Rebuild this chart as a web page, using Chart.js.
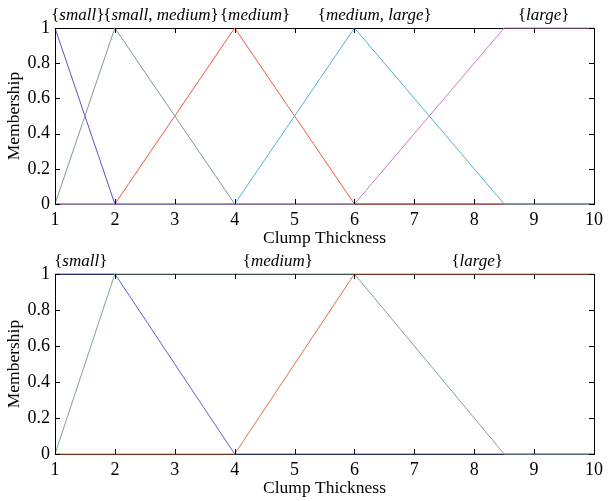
<!DOCTYPE html>
<html>
<head>
<meta charset="utf-8">
<script src="https://cdn.jsdelivr.net/npm/chart.js@4.4.1/dist/chart.umd.min.js"></script>
<style>
  html, body { margin: 0; padding: 0; background: #fff; }
  #wrap { position: relative; width: 608px; height: 501px; }
  canvas { position: absolute; left: 0; }
  #top-chart { top: 0; }
  #bottom-chart { top: 250px; }
</style>
</head>
<body>
<div id="wrap">
  <canvas id="top-chart" width="608" height="250"></canvas>
  <canvas id="bottom-chart" width="608" height="251"></canvas>
</div>
<script>
// ---- data ----
const breakX = [1, 2, 4, 6, 8.5, 10];

// top panel: five fuzzy sets
const topSmall       = [1, 0, 0, 0, 0, 0];
const topSmallMedium = [0, 1, 0, 0, 0, 0];
const topMedium      = [0, 0, 1, 0, 0, 0];
const topMediumLarge = [0, 0, 0, 1, 0, 0];
const topLarge       = [0, 0, 0, 0, 1, 1];
const topNames = ['small', 'small, medium', 'medium', 'medium, large', 'large'];
const topNameAt = [1.38, 2.77, 4.34, 6.34, 9.16];

// bottom panel: three fuzzy sets
const botSmall  = [1, 1, 0, 0, 0, 0];
const botMedium = [0, 1, 1, 1, 0, 0];
const botLarge  = [0, 0, 0, 1, 1, 1];
const botNames = ['small', 'medium', 'large'];
const botNameAt = [1.43, 4.72, 8.05];

const xTickValues = [1, 2, 3, 4, 5, 6, 7, 8, 9, 10];
const xTickLabels = ['1', '2', '3', '4', '5', '6', '7', '8', '9', '10'];
const yTickValues = [0, 0.2, 0.4, 0.6, 0.8, 1];
const yTickLabels = ['0', '0.2', '0.4', '0.6', '0.8', '1'];

const FONT = '"Liberation Serif", "Times New Roman", serif';

function toPoints(ys) {
  return ys.map((y, i) => ({ x: breakX[i], y }));
}

/* draws the axes box and inward tick marks (MATLAB style) */
const boxAndTicks = {
  id: 'boxAndTicks',
  beforeDatasetsDraw(chart) {
    const { ctx, chartArea: a } = chart;
    ctx.save();
    ctx.strokeStyle = '#000';
    ctx.lineWidth = 1;
    ctx.strokeRect(Math.round(a.left) + 0.5, Math.round(a.top) + 0.5,
      Math.round(a.right - a.left), Math.round(a.bottom - a.top));
    ctx.restore();
  },
  afterDatasetsDraw(chart) {
    const { ctx, chartArea: a, scales: { x, y } } = chart;
    const len = 5;
    ctx.save();
    ctx.strokeStyle = '#000';
    ctx.lineWidth = 1;
    ctx.beginPath();
    x.ticks.forEach(t => {
      const px = Math.round(x.getPixelForValue(t.value)) + 0.5;
      ctx.moveTo(px, a.bottom); ctx.lineTo(px, a.bottom - len);
      ctx.moveTo(px, a.top);    ctx.lineTo(px, a.top + len);
    });
    y.ticks.forEach(t => {
      const py = Math.round(y.getPixelForValue(t.value)) + 0.5;
      ctx.moveTo(a.left, py);  ctx.lineTo(a.left + len, py);
      ctx.moveTo(a.right, py); ctx.lineTo(a.right - len, py);
    });
    ctx.stroke();
    ctx.restore();
  }
};

/* set names above the plot: upright braces, italic words */
const setLabels = {
  id: 'setLabels',
  afterDraw(chart, args, opts) {
    const { ctx, scales: { x } } = chart;
    const upright = '17px ' + FONT;
    const italic = 'italic 17px ' + FONT;
    ctx.save();
    ctx.fillStyle = '#000';
    ctx.textBaseline = 'alphabetic';
    opts.names.forEach((name, i) => {
      const cx = x.getPixelForValue(opts.at[i]);
      ctx.font = upright;
      const bl = ctx.measureText('{').width;
      const br = ctx.measureText('}').width;
      ctx.font = italic;
      const tw = ctx.measureText(name).width;
      const left = cx - (bl + tw + br) / 2;
      ctx.font = upright; ctx.fillText('{', left, opts.baseline);
      ctx.font = italic;  ctx.fillText(name, left + bl, opts.baseline);
      ctx.font = upright; ctx.fillText('}', left + bl + tw, opts.baseline);
    });
    ctx.restore();
  }
};

function makeChart(id, datasets, names, at, cfg) {
  const ctx = document.getElementById(id).getContext('2d');
  return new Chart(ctx, {
    type: 'line',
    data: {
      datasets: datasets.map(d => ({
        data: toPoints(d.values),
        borderColor: d.color,
        borderWidth: 1,
        pointRadius: 0,
        tension: 0,
        clip: 3,
        order: d.order,
      })),
    },
    options: {
      responsive: false,
      animation: false,
      devicePixelRatio: 1,
      layout: { padding: { left: 0, right: 14, top: cfg.top, bottom: 0 } },
      plugins: {
        legend: { display: false },
        tooltip: { enabled: false },
        setLabels: { names, at, baseline: cfg.baseline },
      },
      scales: {
        x: {
          type: 'linear',
          min: 1,
          max: 10,
          grid: { display: false, drawTicks: false },
          border: { display: false },
          afterBuildTicks: s => { s.ticks = xTickValues.map(v => ({ value: v })); },
          afterFit: s => { s.height = cfg.axisH; },
          ticks: {
            color: '#000',
            padding: 5,
            maxRotation: 0,
            autoSkip: false,
            font: { family: FONT, size: 18 },
            callback: (v, i) => xTickLabels[i],
          },
          title: {
            display: true,
            text: 'Clump Thickness',
            color: '#000',
            font: { family: FONT, size: 17.5 },
            padding: { top: 0, bottom: cfg.titlePad },
          },
        },
        y: {
          min: 0,
          max: 1,
          grid: { display: false, drawTicks: false },
          border: { display: false },
          afterBuildTicks: s => { s.ticks = yTickValues.map(v => ({ value: v })); },
          afterFit: s => { s.width = 55; },
          ticks: {
            color: '#000',
            padding: 5,
            font: { family: FONT, size: 18 },
            callback: (v, i) => yTickLabels[i],
          },
          title: {
            display: true,
            text: 'Membership',
            color: '#000',
            font: { family: FONT, size: 17.5 },
            padding: { top: 4, bottom: 0 },
          },
        },
      },
    },
    plugins: [boxAndTicks, setLabels],
  });
}

makeChart('top-chart', [
  { values: topSmall,       color: '#5252cc', order: 5 },
  { values: topSmallMedium, color: '#7c9c82', order: 4 },
  { values: topMedium,      color: '#f05a3c', order: 3 },
  { values: topMediumLarge, color: '#4cb4d4', order: 2 },
  { values: topLarge,       color: '#cc7cc4', order: 1 },
], topNames, topNameAt, { top: 28, axisH: 46, titlePad: 1, baseline: 20 });

makeChart('bottom-chart', [
  { values: botSmall,  color: '#5a66c4', order: 3 },
  { values: botMedium, color: '#84a488', order: 2 },
  { values: botLarge,  color: '#f0684a', order: 1 },
], botNames, botNameAt, { top: 24, axisH: 47, titlePad: 2, baseline: 16 });
</script>
</body>
</html>
